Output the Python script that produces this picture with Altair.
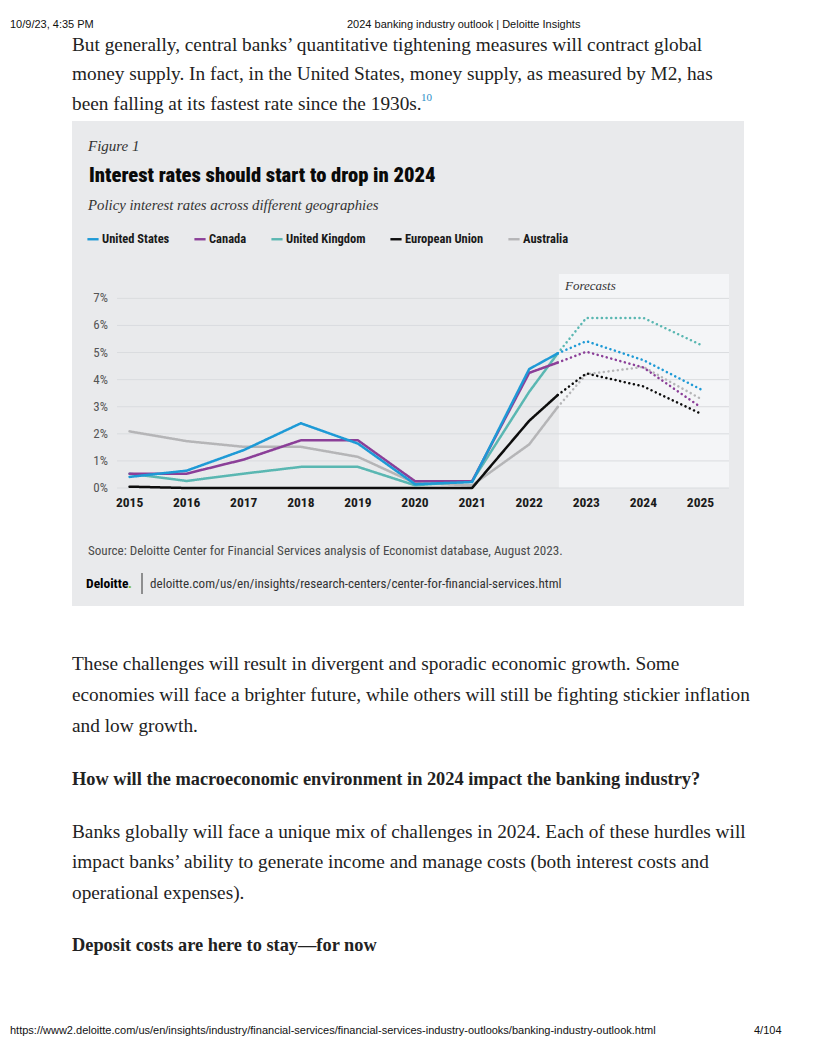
import altair as alt
import pandas as pd

# ---------------- data ----------------
series = ["United States", "Canada", "United Kingdom", "European Union", "Australia"]
colors = ["#1e9ad6", "#8b3f98", "#5ab7b2", "#0d0d0d", "#b5b5b7"]

years_actual = [2015, 2016, 2017, 2018, 2019, 2020, 2021, 2022, 2022.5]
us_actual = [0.41, 0.64, 1.40, 2.39, 1.64, 0.14, 0.22, 4.39, 4.97]
ca_actual = [0.53, 0.53, 1.05, 1.76, 1.76, 0.25, 0.25, 4.25, 4.63]
uk_actual = [0.53, 0.26, 0.53, 0.78, 0.78, 0.10, 0.25, 3.55, 4.97]
eu_actual = [0.05, 0.00, 0.00, 0.00, 0.00, 0.00, 0.00, 2.48, 3.43]
au_actual = [2.09, 1.73, 1.52, 1.52, 1.15, 0.18, 0.10, 1.61, 2.99]

years_fc = [2022.5, 2023, 2024, 2025]
us_fc = [4.97, 5.42, 4.72, 3.65]
ca_fc = [4.63, 5.03, 4.45, 2.99]
uk_fc = [4.97, 6.28, 6.28, 5.29]
eu_fc = [3.43, 4.23, 3.75, 2.75]
au_fc = [2.99, 4.20, 4.47, 3.30]

x_ticks = [2015, 2016, 2017, 2018, 2019, 2020, 2021, 2022, 2023, 2024, 2025]
y_ticks = [0, 1, 2, 3, 4, 5, 6, 7]
forecast_start = 2022.52
x_domain = [2014.78, 2025.5]
y_domain = [0, 7.9]

# ---------------- build table ----------------
actual = {"United States": us_actual, "Canada": ca_actual, "United Kingdom": uk_actual,
          "European Union": eu_actual, "Australia": au_actual}
fc = {"United States": us_fc, "Canada": ca_fc, "United Kingdom": uk_fc,
      "European Union": eu_fc, "Australia": au_fc}
draw_order = ["Australia", "European Union", "United Kingdom", "Canada", "United States"]
rows = []
for s in draw_order:
    for yr, v in zip(years_actual, actual[s]):
        rows.append({"series": s, "year": yr, "rate": v, "seg": "actual", "key": s + " a"})
    for yr, v in zip(years_fc, fc[s]):
        rows.append({"series": s, "year": yr, "rate": v, "seg": "forecast", "key": s + " f"})
df = pd.DataFrame(rows)

# ---------------- layout constants ----------------
OX, OY = 117, 274       # page position of plot origin
W, H = 612, 214
SERIF = "Liberation Serif"
SANS = "Liberation Sans"
COND = "Liberation Sans Narrow, Roboto Condensed, Roboto"
one = pd.DataFrame({"k": [0]})


def txt(s, x, y, size, font=SERIF, weight="normal", style="normal", color="#222222"):
    return alt.Chart(one).mark_text(
        text=s, font=font, fontSize=size, fontWeight=weight, fontStyle=style,
        color=color, align="left", baseline="alphabetic"
    ).encode(x=alt.value(x - OX), y=alt.value(y - OY))


xs = alt.Scale(domain=x_domain, nice=False, zero=False)
ys = alt.Scale(domain=y_domain, nice=False, zero=False)

panel = alt.Chart(one).mark_rect(color="#e9eaec").encode(
    x=alt.value(72 - OX), x2=alt.value(744 - OX), y=alt.value(121 - OY), y2=alt.value(606 - OY))

fc_rect = alt.Chart(pd.DataFrame({"x0": [forecast_start], "x1": [x_domain[1]],
                                  "y0": [y_domain[0]], "y1": [y_domain[1]]})).mark_rect(
    color="#f4f5f7").encode(
    x=alt.X("x0:Q", scale=xs, axis=None), x2="x1:Q", y=alt.Y("y0:Q", scale=ys, axis=None), y2="y1:Q")

grid = alt.Chart(pd.DataFrame({"v": y_ticks})).mark_rule(color="#dadcdf", strokeWidth=1).encode(
    y=alt.Y("v:Q", scale=ys, axis=None))

# tick labels drawn through the shared scales
y_labels = alt.Chart(pd.DataFrame({"v": y_ticks})).transform_calculate(
    lab="datum.v + '%'").mark_text(
    align="right", baseline="middle", font=COND, fontSize=13, color="#555555").encode(
    y=alt.Y("v:Q", scale=ys, axis=None), x=alt.value(-9), text="lab:N")

x_labels = alt.Chart(pd.DataFrame({"v": x_ticks})).transform_calculate(
    lab="toString(datum.v)").mark_text(
    align="center", baseline="middle", font=COND, fontSize=13.5, fontWeight="bold",
    color="#1a1a1a").encode(
    x=alt.X("v:Q", scale=xs, axis=None), y=alt.value(H + 15), text="lab:N")

lines = alt.Chart(df).mark_line(strokeWidth=2.5, strokeCap="round", strokeJoin="round").encode(
    x=alt.X("year:Q", scale=xs, axis=None),
    y=alt.Y("rate:Q", scale=ys, axis=None),
    color=alt.Color("series:N", scale=alt.Scale(domain=series, range=colors),
                    legend=alt.Legend(title=None, orient="none", legendX=-31, legendY=-42,
                                      direction="horizontal", symbolType="stroke",
                                      symbolStrokeWidth=2.4, symbolSize=125,
                                      labelFont=COND, labelFontSize=12.5, labelFontWeight="bold",
                                      labelColor="#1a1a1a", columnPadding=19, labelOffset=2,
                                      zindex=2)),
    strokeDash=alt.StrokeDash("seg:N", scale=alt.Scale(domain=["actual", "forecast"],
                                                       range=[[1, 0], [0.1, 4.6]]), legend=None),
    detail="key:N",
    order=alt.Order("year:Q"),
)

BODY = 19.3
BOLD = 18.35
texts = [
    # page header / footer
    txt("10/9/23, 4:35 PM", 10, 28, 11, font=SANS, color="#111111"),
    txt("2024 banking industry outlook | Deloitte Insights", 347, 28, 11, font=SANS, color="#111111"),
    txt("https://www2.deloitte.com/us/en/insights/industry/financial-services/financial-services-industry-outlooks/banking-industry-outlook.html",
        10, 1034, 11, font=SANS, color="#111111"),
    txt("4/104", 754, 1034, 11, font=SANS, color="#111111"),
    # body text above
    txt("But generally, central banks\u2019 quantitative tightening measures will contract global", 72, 51, BODY),
    txt("money supply. In fact, in the United States, money supply, as measured by M2, has", 72, 80, BODY),
    txt("been falling at its fastest rate since the 1930s.", 72, 110, BODY),
    txt("10", 421, 101, 11, color="#2a8ec6"),
    # figure texts
    txt("Figure 1", 88, 151, 15, style="italic", color="#333333"),
    txt("Interest rates should start to drop in 2024", 89, 182, 20.6, font=COND, weight=900, color="#0a0a0a"),
    txt("Policy interest rates across different geographies", 88, 210, 14.8, style="italic", color="#333333"),
    txt("Forecasts", 565, 290, 13, style="italic", color="#333333"),
    txt("Source: Deloitte Center for Financial Services analysis of Economist database, August 2023.",
        88, 555, 13.1, font=COND, color="#4a4a4a"),
    txt("Deloitte", 86, 588, 13.5, font=COND, weight="bold", color="#000000"),
    txt(".", 128, 588, 13.5, font=COND, weight="bold", color="#86bc25"),
    txt("deloitte.com/us/en/insights/research-centers/center-for-financial-services.html",
        150, 588, 13.1, font=COND, color="#333333"),
    # body text below
    txt("These challenges will result in divergent and sporadic economic growth. Some", 72, 670, BODY),
    txt("economies will face a brighter future, while others will still be fighting stickier inflation", 72, 701, BODY),
    txt("and low growth.", 72, 732, BODY),
    txt("How will the macroeconomic environment in 2024 impact the banking industry?", 72, 785, BOLD, weight="bold"),
    txt("Banks globally will face a unique mix of challenges in 2024. Each of these hurdles will", 72, 838, BODY),
    txt("impact banks\u2019 ability to generate income and manage costs (both interest costs and", 72, 868, BODY),
    txt("operational expenses).", 72, 899, BODY),
    txt("Deposit costs are here to stay\u2014for now", 72, 951, BOLD, weight="bold"),
]

sep = alt.Chart(one).mark_rule(color="#333333", strokeWidth=1).encode(
    x=alt.value(142 - OX), y=alt.value(573 - OY), y2=alt.value(594 - OY))

chart = alt.layer(panel, fc_rect, grid, y_labels, x_labels, lines, sep, *texts).properties(
    width=W, height=H,
    autosize=alt.AutoSizeParams(type="none"),
    padding={"left": OX - 8, "top": OY - 8, "right": 800 - (OX - 8) - W, "bottom": 1032 - (OY - 8) - H},
    background="#ffffff",
).configure_view(stroke=None)

chart.save("out.html", embed_options={"renderer": "svg", "actions": False})
